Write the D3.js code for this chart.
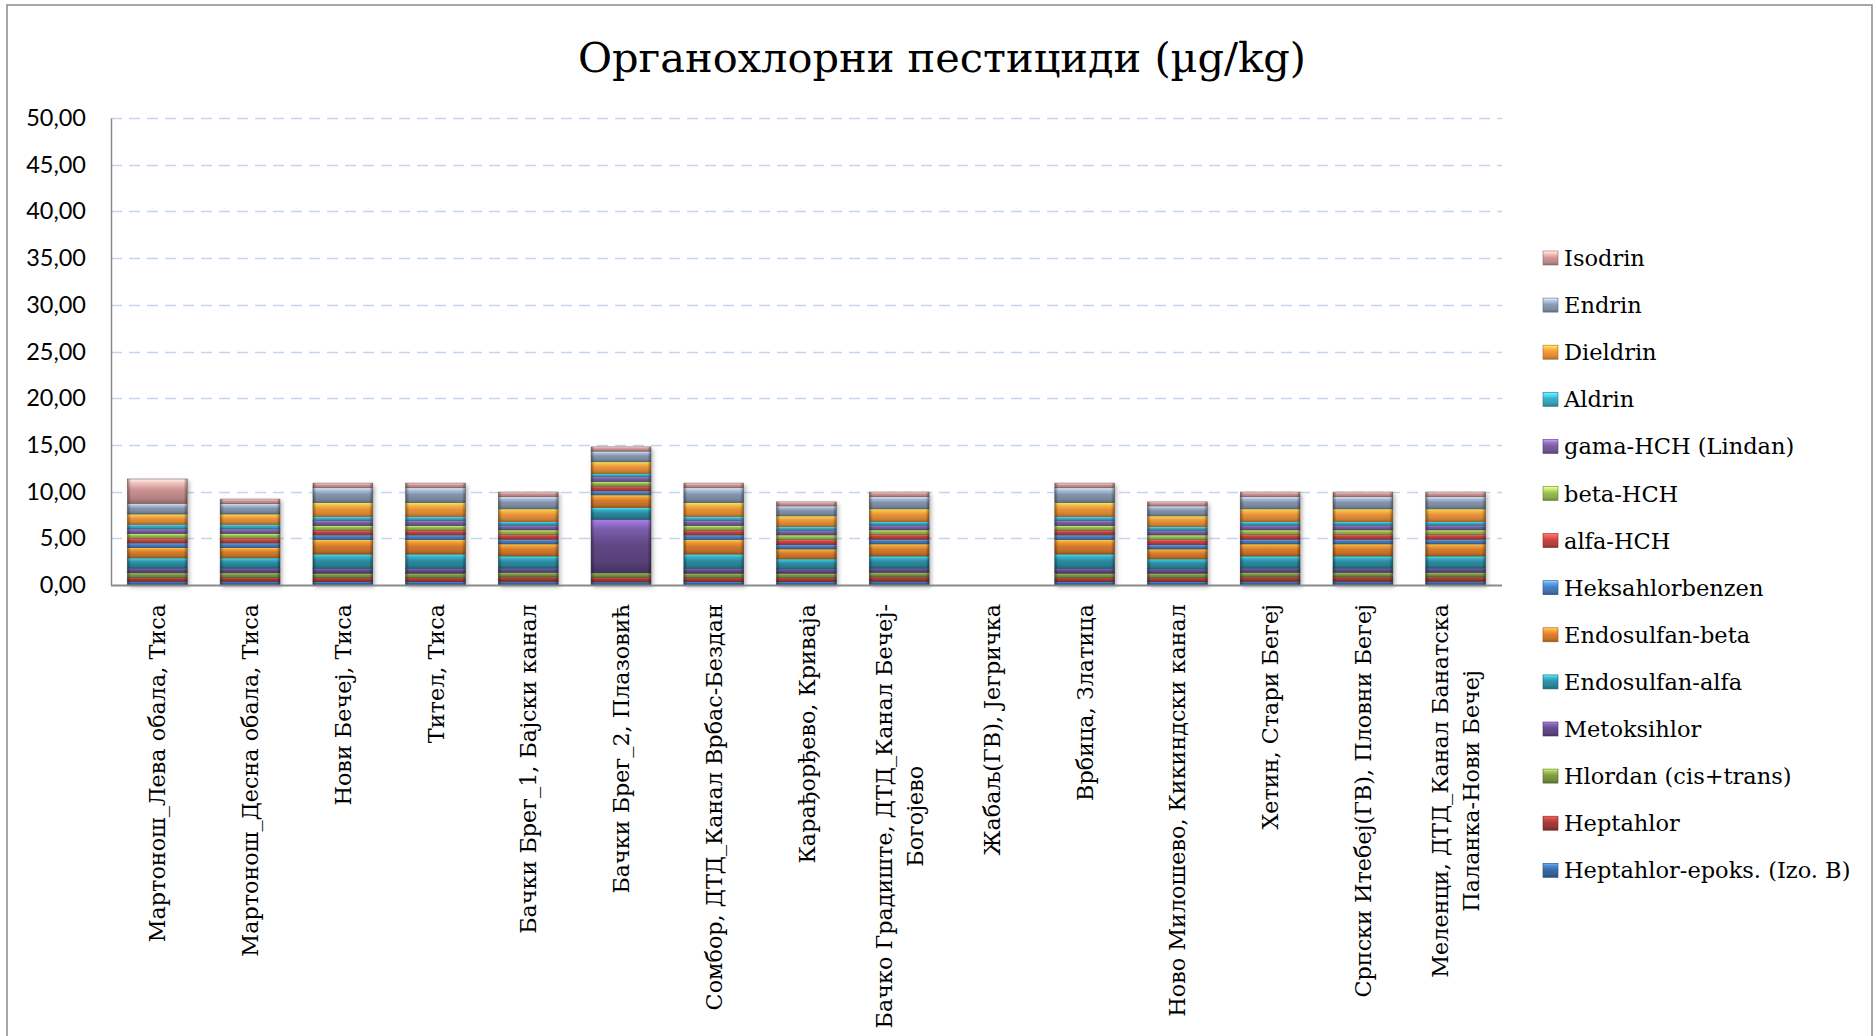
<!DOCTYPE html>
<html><head><meta charset="utf-8">
<script src="https://cdn.jsdelivr.net/npm/d3@7"></script>
<style>body{margin:0;background:#fff}svg{display:block}</style>
</head><body>
<svg id="chart" width="1876" height="1036"></svg>
<script>
// ---------- DATA ----------
const title = "Органохлорни пестициди (µg/kg)";
const categories = [
  ["Мартонош_Лева обала, Тиса"],
  ["Мартонош_Десна обала, Тиса"],
  ["Нови Бечеј, Тиса"],
  ["Тител, Тиса"],
  ["Бачки Брег_1, Бајски канал"],
  ["Бачки Брег_2, Плазовић"],
  ["Сомбор, ДТД_Канал Врбас-Бездан"],
  ["Карађорђево, Криваја"],
  ["Бачко Градиште, ДТД_Канал Бечеј-", "Богојево"],
  ["Жабаљ(ГВ), Јегричка"],
  ["Врбица, Златица"],
  ["Ново Милошево, Кикиндски канал"],
  ["Хетин, Стари Бегеј"],
  ["Српски Итебеј(ГВ), Пловни Бегеј"],
  ["Меленци, ДТД_Канал Банатска", "Паланка-Нови Бечеј"]
];
// series, bottom to top of the stack
const seriesNames = [
  "Heptahlor-epoks. (Izo. B)", "Heptahlor", "Hlordan (cis+trans)", "Metoksihlor",
  "Endosulfan-alfa", "Endosulfan-beta", "Heksahlorbenzen", "alfa-HCH", "beta-HCH",
  "gama-HCH (Lindan)", "Aldrin", "Dieldrin", "Endrin", "Isodrin"
];
const heptahlorEpoks = [0.40,0.40,0.36,0.36,0.40,0.33,0.36,0.36,0.40,0,0.36,0.36,0.40,0.40,0.40];
const heptahlor      = [0.40,0.40,0.40,0.40,0.45,0.50,0.40,0.40,0.45,0,0.40,0.40,0.45,0.45,0.45];
const hlordan        = [0.50,0.50,0.50,0.50,0.50,0.46,0.50,0.50,0.50,0,0.50,0.50,0.50,0.50,0.50];
const metoksihlor    = [0.50,0.50,0.50,0.50,0.45,5.75,0.50,0.46,0.45,0,0.50,0.46,0.45,0.45,0.45];
const endosulfanAlfa = [1.10,1.10,1.55,1.55,1.30,1.25,1.55,1.07,1.30,0,1.55,1.07,1.30,1.30,1.30];
const endosulfanBeta = [1.10,1.10,1.55,1.55,1.30,1.36,1.55,1.07,1.30,0,1.55,1.07,1.30,1.30,1.30];
const heksahlorbenzen= [0.50,0.50,0.50,0.50,0.50,0.43,0.50,0.46,0.50,0,0.50,0.46,0.50,0.50,0.50];
const alfaHCH        = [0.50,0.50,0.50,0.50,0.50,0.50,0.50,0.54,0.50,0,0.50,0.54,0.50,0.50,0.50];
const betaHCH        = [0.50,0.50,0.50,0.50,0.50,0.50,0.50,0.50,0.50,0,0.50,0.50,0.50,0.50,0.50];
const gamaHCH        = [0.50,0.50,0.55,0.55,0.50,0.50,0.55,0.50,0.50,0,0.55,0.50,0.50,0.50,0.50];
const aldrin         = [0.50,0.50,0.40,0.40,0.40,0.36,0.40,0.40,0.40,0,0.40,0.40,0.40,0.40,0.40];
const dieldrin       = [1.10,1.10,1.50,1.50,1.35,1.25,1.50,1.14,1.35,0,1.50,1.14,1.35,1.35,1.35];
const endrin         = [1.10,1.10,1.60,1.60,1.30,1.14,1.60,1.07,1.30,0,1.60,1.07,1.30,1.30,1.30];
const isodrin        = [2.65,0.50,0.50,0.50,0.50,0.46,0.50,0.43,0.50,0,0.50,0.43,0.50,0.50,0.50];
const seriesValues = [heptahlorEpoks, heptahlor, hlordan, metoksihlor, endosulfanAlfa,
  endosulfanBeta, heksahlorbenzen, alfaHCH, betaHCH, gamaHCH, aldrin, dieldrin, endrin, isodrin];
const yTicks = [0,5,10,15,20,25,30,35,40,45,50];

// ---------- STYLE ----------
const colors = ["#3D6CA8","#A83B38","#7F9C45","#674C8E","#2F93AA","#E0812E",
                "#4A80C1","#C64643","#9BBE56","#7D60A4","#3DB1CC","#F79A3B","#8C9DB6","#D39A99"];
const plot = {left:111, right:1502, top:118, bottom:585};

const svg = d3.select("#chart");
const defs = svg.append("defs");

// frame
svg.append("rect").attr("x",7).attr("y",5).attr("width",1865).attr("height",1040)
  .attr("fill","#fff").attr("stroke","#8a8a8a").attr("stroke-width",1.5);

// title
svg.append("text").attr("x",942).attr("y",72).attr("text-anchor","middle")
  .attr("font-family","DejaVu Serif").attr("font-size",41.5).attr("fill","#000").text(title);

const x = d3.scaleBand().domain(d3.range(categories.length))
  .range([plot.left, plot.right]).paddingInner(0.355).paddingOuter(0.1775);
const y = d3.scaleLinear().domain([0,50]).range([plot.bottom, plot.top]);

// gridlines
svg.append("g").selectAll("line").data(yTicks.filter(d=>d>0)).join("line")
  .attr("x1",plot.left).attr("x2",plot.right)
  .attr("y1",d=>Math.round(y(d))+0.5).attr("y2",d=>Math.round(y(d))+0.5)
  .attr("stroke","#C3D5EE").attr("stroke-width",1.5).attr("stroke-dasharray","11,7");

// y axis
const yAxis = d3.axisLeft(y).tickValues(yTicks).tickSize(0).tickPadding(25)
  .tickFormat(d=>d3.format(".2f")(d).replace(".",","));
const gy = svg.append("g").attr("transform",`translate(${plot.left},0)`).call(yAxis);
gy.select(".domain").attr("stroke","#8a8a8a").attr("stroke-width",1.5);
gy.selectAll("text").attr("font-family","Lato").attr("font-size",23.5).attr("fill","#000");

// gradients (bevel look)
colors.forEach((c,i)=>{
  const base = d3.rgb(c);
  const g = defs.append("linearGradient").attr("id","gv"+i).attr("x1",0).attr("x2",0).attr("y1",0).attr("y2",1);
  [[0, base.brighter(1.6)],[0.18, base.brighter(0.7)],[0.45, base],[0.8, base.darker(0.35)],[1, base.darker(1.0)]]
    .forEach(([o,col])=>g.append("stop").attr("offset",o).attr("stop-color",col));
});
const gh = defs.append("linearGradient").attr("id","gh").attr("x1",0).attr("x2",1).attr("y1",0).attr("y2",0);
[[0,0.4],[0.06,0.05],[0.94,0.05],[1,0.4]].forEach(([o,a])=>gh.append("stop").attr("offset",o).attr("stop-color","#000").attr("stop-opacity",a));
const f = defs.append("filter").attr("id","sh").attr("x","-20%").attr("y","-20%").attr("width","140%").attr("height","140%");
f.append("feDropShadow").attr("dx",2).attr("dy",2).attr("stdDeviation",2).attr("flood-color","#000").attr("flood-opacity",0.3);

// stacked bars
const rows = categories.map((c,i)=>{ const r={i}; seriesNames.forEach((s,k)=>r[s]=seriesValues[k][i]); return r; });
const stacked = d3.stack().keys(seriesNames)(rows);
const total = r=>d3.sum(seriesNames,s=>r[s]);
const barsG = svg.append("g");
barsG.append("g").selectAll("rect").data(rows.filter(r=>total(r)>0)).join("rect")
  .attr("x",r=>x(r.i)).attr("width",x.bandwidth())
  .attr("y",r=>y(total(r))).attr("height",r=>plot.bottom-y(total(r)))
  .attr("fill","#fff").attr("filter","url(#sh)");
stacked.forEach((layer,k)=>{
  const g = barsG.append("g");
  const segs = layer.filter(d=>d[1]-d[0]>0);
  g.selectAll("rect.s").data(segs).join("rect").attr("class","s")
    .attr("x",d=>x(d.data.i)).attr("width",x.bandwidth())
    .attr("y",d=>y(d[1])).attr("height",d=>y(d[0])-y(d[1]))
    .attr("fill",`url(#gv${k})`).attr("stroke",d3.rgb(colors[k]).darker(1.2)).attr("stroke-width",0.6);
  g.selectAll("rect.o").data(segs).join("rect").attr("class","o")
    .attr("x",d=>x(d.data.i)).attr("width",x.bandwidth())
    .attr("y",d=>y(d[1])).attr("height",d=>y(d[0])-y(d[1]))
    .attr("fill","url(#gh)");
});

// x axis line
svg.append("line").attr("x1",plot.left).attr("x2",plot.right).attr("y1",plot.bottom+0.5).attr("y2",plot.bottom+0.5)
  .attr("stroke","#8a8a8a").attr("stroke-width",2);

// category labels
const labTop = 604, lineH = 31;
const cg = svg.append("g").selectAll("g").data(categories).join("g")
  .attr("transform",(d,i)=>`translate(${x(i)+x.bandwidth()/2},${labTop}) rotate(-90)`);
cg.each(function(lines){
  const g = d3.select(this);
  const ts = lines.map((t,j)=>g.append("text").attr("font-family","DejaVu Serif").attr("font-size",22.3)
    .attr("dominant-baseline","central").attr("y",(j-(lines.length-1)/2)*lineH).text(t));
  const maxLen = d3.max(ts,t=>t.node().getComputedTextLength());
  ts.forEach(t=>t.attr("text-anchor","middle").attr("x",-maxLen/2));
});

// legend
const legTop = 258, legStep = 47.1;
const lg = svg.append("g").selectAll("g").data(seriesNames.map((s,k)=>({s,k})).reverse()).join("g")
  .attr("transform",(d,j)=>`translate(1543,${legTop+j*legStep})`);
lg.append("rect").attr("x",0).attr("y",-7).attr("width",15).attr("height",14)
  .attr("fill",d=>`url(#gv${d.k})`).attr("stroke",d=>d3.rgb(colors[d.k]).darker(1.2)).attr("stroke-width",0.6);
lg.append("text").attr("x",21).attr("y",0).attr("dominant-baseline","central")
  .attr("font-family","DejaVu Serif").attr("font-size",22.5).text(d=>d.s);
</script>
</body></html>
